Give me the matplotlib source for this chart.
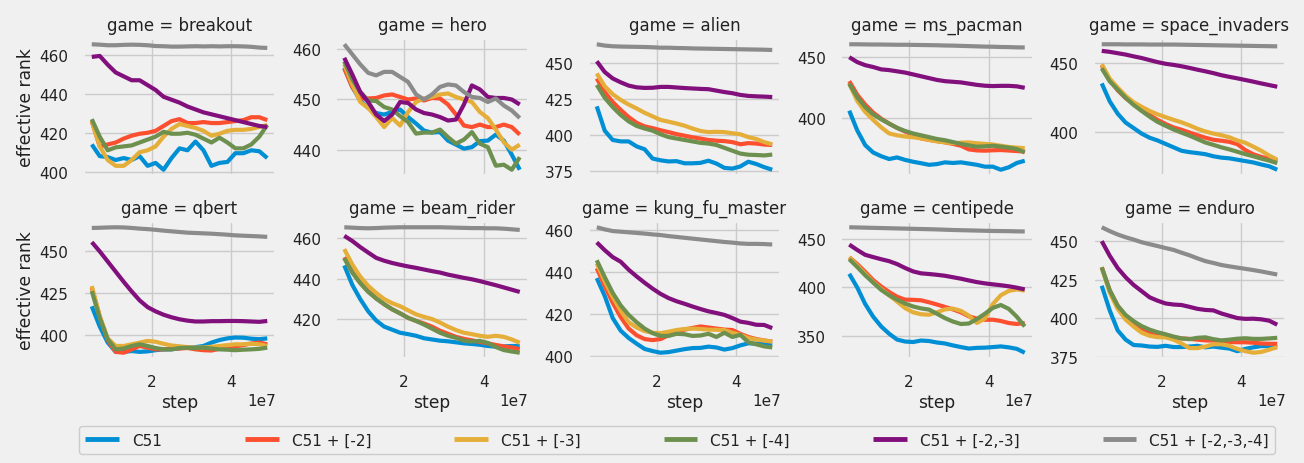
import matplotlib
matplotlib.use("Agg")
import matplotlib.pyplot as plt
from matplotlib.lines import Line2D

plt.style.use("fivethirtyeight")
plt.rcParams["font.family"] = ["DejaVu Sans"]

# training steps (in millions of frames)
step_millions = [5, 7, 9, 11, 13, 15, 17, 19, 21, 23, 25, 27,
                 29, 31, 33, 35, 37, 39, 41, 43, 45, 47, 49]
steps = [s * 1e6 for s in step_millions]

methods = ["C51", "C51 + [-2]", "C51 + [-3]", "C51 + [-4]",
           "C51 + [-2,-3]", "C51 + [-2,-3,-4]"]
colors = ["#008fd5", "#fc4f30", "#e5ae38", "#6d904f", "#810f7c", "#8b8b8b"]

# effective rank per game, one list per method (same order as `methods`)
breakout = [
    [414, 408, 407.5, 406, 407, 406, 408, 403, 404.5, 401, 407, 412, 411, 415.5, 411, 403, 404.5, 405, 409.5, 409.5, 411, 410.5, 407],
    [426, 413, 414, 415, 417, 418.5, 419.5, 420, 421, 423.5, 426, 427, 425, 425, 425.5, 425, 425, 425.5, 426, 426.5, 428, 428, 426.5],
    [426, 413, 406, 403, 403, 406, 410, 411, 413, 418, 422, 424.5, 423.5, 422.5, 421, 418.5, 419.5, 421, 421.5, 421.5, 422, 423, 424],
    [427, 418, 411, 412.5, 413, 413.5, 415, 416.5, 418, 420.5, 419.5, 419.5, 420, 419, 417, 415, 417.5, 415, 412, 412, 414, 418, 424],
    [459, 459.5, 455, 451, 449, 447, 447, 444.5, 442, 438.5, 437, 435.5, 433.5, 432, 430.5, 429.5, 428.5, 427.5, 426.5, 425.5, 424.5, 423.5, 423],
    [465.5, 465.3, 465, 465, 465.2, 465.3, 465.2, 465, 464.6, 464.5, 464.3, 464.3, 464.4, 464.5, 464.4, 464.5, 464.4, 464.5, 464.5, 464.4, 464.2, 463.8, 463.6],
]
hero = [
    [456.3, 452.5, 449.8, 448.3, 447.3, 447, 447.5, 448, 446.5, 445.2, 443.8, 443.4, 443.5, 441.8, 441, 440.2, 440.5, 441.7, 441.8, 443, 441.8, 439, 436],
    [456.2, 452.5, 450.2, 450.2, 450.3, 450.8, 451, 450.5, 450, 450.2, 449.8, 450.3, 450.2, 449, 447, 444.8, 444.5, 445, 444.5, 444.5, 445, 444.5, 443],
    [457, 453, 449.5, 448.3, 446.5, 444.5, 446.3, 444.8, 447.5, 449.5, 450.2, 450.5, 451, 451.2, 450.5, 450, 449.5, 447.5, 446.3, 444, 441.5, 440, 441],
    [457.6, 454, 451.5, 449.8, 449.7, 448.5, 448, 446.7, 445.5, 443.2, 443.4, 443.4, 444, 442.5, 441.2, 442, 443.5, 441.2, 440.5, 436.8, 437, 436, 438.5],
    [458.3, 455, 451.5, 449.5, 447, 445.7, 447, 449.5, 449.3, 448, 447.3, 447, 446.5, 445.8, 446, 449, 452.8, 452, 450.5, 450.3, 450.3, 450, 449],
    [461, 459, 457, 455.3, 454.8, 455.5, 455.5, 454.5, 453.5, 451, 450, 451, 452.5, 453, 452.8, 451.5, 450.5, 450.3, 449.5, 450.2, 448.8, 447.8, 446.3],
]
alien = [
    [420, 403, 396.5, 395.5, 395.5, 392, 390, 383.5, 382.3, 381.5, 381.7, 380.2, 380.2, 380.5, 382, 380, 377, 376.5, 378, 381.3, 379.7, 377.5, 375.7],
    [439.5, 430, 423, 417.5, 412.5, 408.5, 406, 404.8, 403.3, 402, 400.6, 399.5, 398.4, 397.5, 396.5, 396, 395.7, 395, 393.5, 394.3, 394, 393.3, 393],
    [443, 434, 428.5, 424.5, 421.3, 418.5, 415.5, 413, 410.5, 409.3, 408, 406.5, 404.5, 402.8, 402, 402.2, 402, 401.2, 400.5, 398.5, 397.2, 395, 393.5],
    [435, 426, 419.5, 414, 409.5, 406.3, 404.5, 403, 400.5, 398.5, 397.5, 396.5, 395.5, 394.5, 394, 393, 391, 389, 387, 386.2, 386, 385.7, 386.3],
    [451.5, 444, 439.5, 436.8, 434.5, 433.3, 432.9, 433, 433.6, 433.6, 433.2, 432.8, 432.5, 432.2, 432, 431, 430, 429.2, 428, 427.3, 427, 426.8, 426.5],
    [463.4, 462.5, 462, 461.8, 461.7, 461.6, 461.5, 461.3, 461, 461, 460.8, 460.7, 460.5, 460.4, 460.3, 460.2, 460.1, 460, 459.9, 459.8, 459.7, 459.6, 459.4],
]
ms_pacman = [
    [406, 390, 378, 372, 369, 366.7, 368, 366, 364.5, 363.3, 362, 362.6, 364, 363.5, 364, 363, 362, 360.5, 360.5, 358, 360, 363.5, 365.3],
    [430, 419, 411, 404.5, 399.5, 395.5, 392, 389, 386.5, 383.5, 382.3, 381.3, 380.3, 379, 377.5, 374.5, 373.7, 373.5, 373.8, 374, 373.6, 373.2, 372.8],
    [428, 414, 405, 398.5, 392.5, 387.5, 386, 385, 384.4, 383.5, 382.3, 381, 380.3, 379.5, 380, 380.2, 379.5, 379, 378.5, 377.5, 376.5, 376, 375.5],
    [428, 417, 409, 403, 399, 395.5, 392, 389.5, 387.5, 386, 384.5, 383, 382, 380.5, 379, 377.8, 376.7, 377, 377.5, 376.8, 376, 374.8, 372.1],
    [449.5, 445.5, 443, 441.5, 439.6, 439, 438, 437, 435.5, 434, 432.5, 431, 430, 429.5, 429, 428, 427, 426.3, 426, 426.2, 426.2, 425.8, 424.6],
    [460, 460, 459.9, 459.8, 459.8, 459.7, 459.6, 459.6, 459.5, 459.4, 459.3, 459.2, 459, 458.9, 458.7, 458.5, 458.3, 458.1, 458, 457.8, 457.7, 457.5, 457.4],
]
space_invaders = [
    [435, 422, 413, 406.5, 402.5, 398.5, 395.5, 393.5, 391, 388.5, 386, 385, 384.3, 383.5, 382, 381, 380.5, 379.5, 378.5, 377.5, 376, 374.7, 372.2],
    [448, 437.5, 430, 424.3, 420, 416, 412, 408.5, 405.5, 403, 401.3, 399.3, 397.3, 395.5, 394, 393.3, 392.5, 390.8, 386.5, 383.5, 381.5, 380.3, 378.3],
    [449, 438.5, 432, 426, 421.3, 418, 415, 412.5, 410.5, 408.5, 406.7, 404.5, 402, 400, 398.5, 397.3, 395.8, 393.5, 391.8, 389, 386, 382.5, 379.5],
    [446, 436.5, 430.5, 424.5, 419.3, 415, 410.8, 407, 404.2, 401.5, 399.2, 397, 394.5, 392, 390.3, 388.5, 387, 385.3, 383.5, 382, 380.3, 378.8, 377],
    [458.7, 458, 457, 456, 454.7, 453.5, 452, 450.5, 449.3, 448.5, 447.5, 446.3, 445, 443.8, 442.5, 441, 439.8, 438.7, 437.5, 436.3, 435, 433.8, 432.6],
    [463.5, 463.5, 463.5, 463.4, 463.4, 463.4, 463.3, 463.3, 463.3, 463.3, 463.2, 463.1, 463, 462.9, 462.8, 462.7, 462.6, 462.5, 462.4, 462.3, 462.2, 462.1, 462],
]
qbert = [
    [417, 405, 395.5, 390, 390, 390.5, 390, 390.3, 391, 391.5, 391.5, 392.2, 392.5, 392.8, 393.5, 395.5, 397, 398, 398.5, 398.4, 397.8, 397.5, 398],
    [428, 411, 397, 390, 389.5, 391.5, 393.5, 392.5, 391.5, 391.5, 391.8, 392, 392.3, 391.5, 391, 390.8, 391.8, 392.5, 393.3, 394, 395, 395.5, 394.5],
    [429, 411, 398, 393.5, 393.5, 394.5, 395.5, 396.5, 396, 394.8, 393.8, 393.3, 392.8, 392.5, 392.6, 393, 393.5, 394, 394.5, 394.5, 394.8, 394.5, 393.5],
    [426, 410, 397.5, 391.5, 392, 393.5, 394.5, 393.5, 392.3, 391.5, 391.5, 392.3, 392.5, 392.2, 392.5, 392, 391.5, 391.3, 391, 391.3, 391.5, 391.8, 392.5],
    [455, 449.5, 443.5, 437.5, 431.5, 425.8, 420.5, 416.5, 414, 412, 410.5, 409.3, 408.5, 408, 408, 408.2, 408.2, 408.3, 408.3, 408.2, 408, 407.8, 408.3],
    [463.4, 463.5, 463.7, 463.8, 463.7, 463.4, 463, 462.7, 462.3, 461.8, 461.4, 461, 460.6, 460.4, 460.2, 460, 459.7, 459.4, 459, 458.8, 458.6, 458.4, 458.1],
]
beam_rider = [
    [446.5, 437, 430, 424, 419.5, 416.5, 415, 413.5, 412.8, 412, 410.8, 410.2, 409.6, 409.3, 408.8, 408.3, 408, 407.6, 407, 406.7, 406.8, 407, 407],
    [450.5, 443.5, 438, 434, 430.3, 427.5, 425, 423, 420.8, 419.3, 418, 416.5, 414.5, 413, 411.5, 410.5, 409.8, 409, 408.3, 407.5, 406.8, 406.3, 405.4],
    [454.5, 447, 441, 436.5, 433, 430, 428, 426.5, 424.5, 422.5, 421.3, 420.2, 418.5, 416.5, 414.8, 413.5, 412.8, 412, 411.5, 412, 411.5, 410.2, 408.6],
    [450, 443, 437.8, 433.5, 430.3, 427.5, 425, 423, 420.8, 419.3, 417.5, 415.5, 413.5, 412, 411, 409.6, 409.2, 409.5, 408.5, 406.5, 405, 404.3, 403.7],
    [461, 458.5, 455.5, 452.8, 450.2, 448.8, 447.7, 446.8, 446, 445.3, 444.5, 443.7, 443, 442, 441.2, 440.4, 439.7, 438.8, 437.8, 436.8, 435.7, 434.6, 433.5],
    [465.2, 465, 464.8, 464.7, 464.8, 465, 465.1, 465.2, 465.2, 465.2, 465.2, 465.2, 465.2, 465.1, 465, 464.9, 464.8, 464.8, 464.7, 464.7, 464.5, 464.2, 463.9],
]
kung_fu_master = [
    [437, 428.5, 418, 412, 408.5, 405.8, 403.3, 402.3, 401.5, 401.8, 402.5, 403.2, 403.7, 403.8, 404.4, 404, 403, 403.7, 405, 406, 405.8, 405.5, 405.3],
    [441.7, 433.3, 425.3, 418.5, 413, 409.8, 408, 407.5, 408, 409.8, 411.3, 412.5, 413.3, 414, 413.5, 413, 412.5, 412.3, 410.5, 409, 408, 407.3, 406.8],
    [444, 435.5, 428, 421.5, 416, 413.5, 411.8, 411, 410.8, 411.5, 412.3, 412.8, 413, 412.8, 412.5, 412.4, 412.3, 411, 410, 408.5, 407.8, 407.3, 406.8],
    [445.5, 437.5, 430, 424, 419.5, 416, 413, 410.8, 409.5, 409.5, 410.5, 410.3, 409.5, 409.7, 410.5, 409, 411, 409, 410, 406.5, 405.5, 404.5, 404],
    [454, 450.3, 447, 444.8, 441, 437.8, 434.8, 432, 429.5, 427.5, 426, 424.8, 423.5, 422.3, 421.2, 420.4, 419.5, 418, 416.3, 415.7, 414.8, 414.7, 413.2],
    [461.2, 460.2, 459.4, 459.1, 458.8, 458.5, 458.2, 457.8, 457.5, 457, 456.6, 456.2, 455.8, 455.4, 455, 454.6, 454.2, 453.9, 453.5, 453.3, 453.3, 453.2, 453],
]
centipede = [
    [414, 400, 383, 370, 360, 352.5, 346.5, 344.5, 344, 345.5, 345, 343.5, 342.5, 340.5, 338.8, 337.3, 338, 338.2, 338.8, 339.5, 338.5, 337, 333],
    [431, 424, 416, 407.6, 401, 395.3, 390.5, 387.5, 387.3, 386.8, 384.8, 382.5, 380, 377.5, 374.5, 370.3, 368, 366.8, 366.9, 365.6, 363.5, 362.5, 363.5],
    [431, 422.5, 414, 405.5, 398.5, 392, 385.5, 378.8, 374.5, 372.5, 372, 374.5, 377.5, 378.3, 376, 371, 363.6, 368, 383, 392, 396.5, 398, 396.8],
    [429, 421, 412.5, 405, 397.5, 392, 387.5, 383.5, 380.5, 378.5, 377.3, 373, 368.5, 365, 362.5, 363, 367.5, 373, 379, 382, 378, 370, 360],
    [444, 438.5, 433.5, 431.2, 429, 427, 424, 420, 416.5, 414.5, 413.8, 413, 412, 410.5, 409, 407.2, 405.5, 404.2, 403.2, 402.3, 401.2, 399.8, 398],
    [461.8, 461.6, 461.4, 461.2, 461, 460.8, 460.6, 460.4, 460.2, 460, 459.8, 459.6, 459.3, 459, 458.8, 458.6, 458.4, 458.2, 458, 457.9, 457.8, 457.6, 457.5],
]
enduro = [
    [421, 405, 392, 386, 382.5, 382.2, 381.5, 381.3, 382, 381.2, 381.2, 381.5, 382, 381, 381.5, 380.8, 380.2, 378.5, 380, 381, 381.8, 381.8, 381.1],
    [433, 418, 408, 401.5, 397.3, 393.5, 391, 389.5, 388.5, 387.5, 386.8, 386.5, 386, 385.5, 385.4, 385, 384.5, 384.3, 384.3, 384, 383.5, 383.3, 383.3],
    [433, 416.5, 406, 399, 394.5, 390.5, 388.5, 387.6, 387.5, 386, 383.5, 380.5, 380.5, 381.5, 383, 383, 382, 380, 378.5, 377.5, 378, 379.5, 381.1],
    [433, 418, 408, 402, 398, 394.8, 392.5, 390.8, 389.5, 388, 386.8, 386.3, 387.2, 387.5, 386.3, 385.5, 386, 386.6, 386.9, 386.5, 386.5, 386.8, 387.2],
    [450, 440.5, 432.5, 426.5, 421.5, 417.5, 413.5, 411.3, 409.5, 408.8, 408.5, 407.3, 406, 405.3, 405, 403, 401.5, 400, 399.5, 399.6, 399.2, 398.3, 395.7],
    [459, 456.5, 454.3, 452.5, 451, 449.3, 448, 446.8, 445.5, 444.3, 442.5, 440.8, 438.8, 437, 435.8, 434.5, 433.6, 432.8, 432, 431.2, 430.3, 429.3, 428.3],
]

game_names = ["breakout", "hero", "alien", "ms_pacman", "space_invaders",
              "qbert", "beam_rider", "kung_fu_master", "centipede", "enduro"]
game_data = [breakout, hero, alien, ms_pacman, space_invaders,
             qbert, beam_rider, kung_fu_master, centipede, enduro]
y_ticks = [
    [400, 420, 440, 460], [440, 450, 460], [375, 400, 425, 450], [400, 450], [400, 450],
    [400, 425, 450], [420, 440, 460], [400, 420, 440, 460], [350, 400, 450], [375, 400, 425, 450],
]
x_ticks = [2e7, 4e7]

TEXT = "#222222"

fig, axes = plt.subplots(2, 5, sharex=True, figsize=(13.04, 4.64), dpi=100)
fig.subplots_adjust(left=83 / 1304, right=1286 / 1304, top=1 - 39 / 464,
                    bottom=1 - 360 / 464, wspace=0.308, hspace=0.326)

for ax, name, series, yt in zip(axes.flat, game_names, game_data, y_ticks):
    for values, color, label in zip(series, colors, methods):
        ax.plot(steps, values, color=color, lw=3, label=label,
                solid_capstyle="butt")
    ax.set_title(f"game = {name}", fontsize=12, pad=6, color=TEXT)
    ax.set_yticks(yt)
    ax.set_xticks(x_ticks)
    ax.tick_params(axis="y", labelsize=11, pad=10.5, colors=TEXT)
    ax.tick_params(axis="x", labelsize=11, pad=11, colors=TEXT)
    ax.grid(True, color="#cbcbcb", lw=1)
    ax.xaxis.get_offset_text().set_fontsize(11)
    ax.xaxis.get_offset_text().set_color(TEXT)

for ax in axes[:, 0]:
    ax.set_ylabel("effective rank", fontsize=12.3, labelpad=3, color=TEXT)
for ax in axes[1, :]:
    ax.set_xlabel("step", fontsize=12.3, labelpad=3, color=TEXT)

handles = [Line2D([], [], color=c, lw=3.5) for c in colors]
leg = fig.legend(handles, methods, loc="center", ncol=6,
                 bbox_to_anchor=(677 / 1304, 1 - 441 / 464),
                 fontsize=11, handlelength=2.2, handletextpad=0.85,
                 columnspacing=5.45, frameon=True, fancybox=True,
                 framealpha=1, borderaxespad=0, borderpad=0.4)
leg.get_frame().set_facecolor("#f0f0f0")
leg.get_frame().set_edgecolor("#cccccc")
leg.get_frame().set_linewidth(1)
for t in leg.get_texts():
    t.set_color(TEXT)

fig.savefig("out.png", dpi=100, facecolor="#f0f0f0")
